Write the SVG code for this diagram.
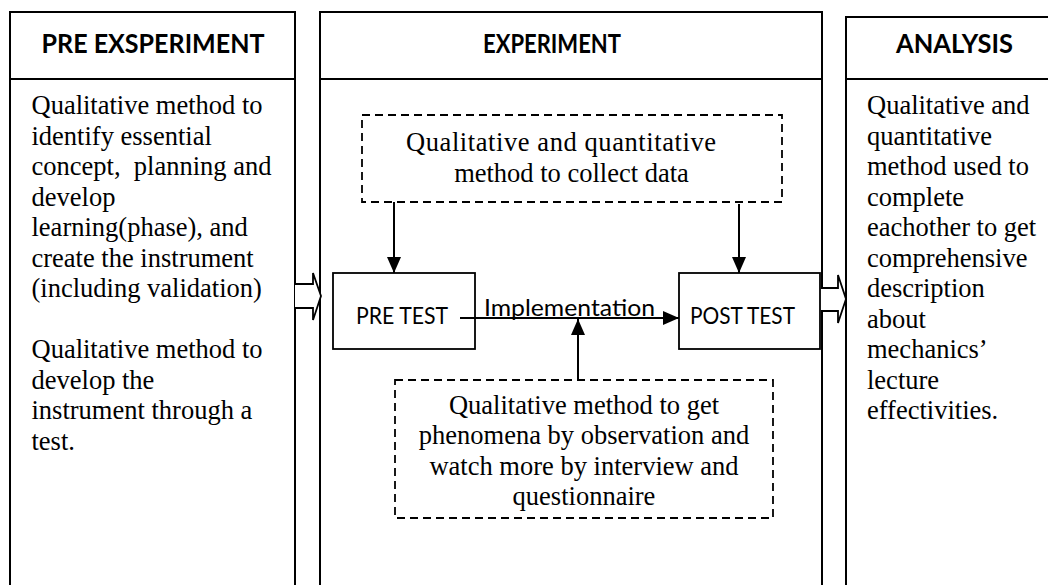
<svg xmlns="http://www.w3.org/2000/svg" width="1048" height="585" viewBox="0 0 1048 585">
<style>
.col{fill:#fff;stroke:#000;stroke-width:2}
.box{fill:#fff;stroke:#000;stroke-width:1.8}
.dash{fill:none;stroke:#000;stroke-width:1.8;stroke-dasharray:8 5}
.hdr{font-family:Lato,"Liberation Sans",sans-serif;font-weight:bold;font-size:27px;fill:#000}
.sans{font-family:Lato,"Liberation Sans",sans-serif;font-size:23px;fill:#000}
.serif{font-family:"Liberation Serif","Times New Roman",serif;font-size:26.5px;fill:#000;white-space:pre}
.ctr{text-anchor:middle}
.conn{stroke:#000;stroke-width:2;fill:none}
.hollow{fill:#fff;stroke:#000;stroke-width:1.8;stroke-linejoin:miter}
</style>
<defs>
<marker id="ah" markerUnits="userSpaceOnUse" markerWidth="16" markerHeight="14" refX="16" refY="7" orient="auto">
<path d="M0,0 L16,7 L0,14 Z" fill="#000"/>
</marker>
</defs>
<rect width="1048" height="585" fill="#fff"/>

<g id="col-pre">
<rect class="col" x="10" y="12" width="285" height="600"/>
<line class="col" x1="10" y1="79" x2="295" y2="79"/>
<text class="hdr" x="41.5" y="53" textLength="223" lengthAdjust="spacingAndGlyphs">PRE EXSPERIMENT</text>
<text class="serif" x="31.5" y="114">Qualitative method to</text>
<text class="serif" x="31.5" y="144.5">identify essential</text>
<text class="serif" x="31.5" y="175">concept,  planning and</text>
<text class="serif" x="31.5" y="205.5">develop</text>
<text class="serif" x="31.5" y="236">learning(phase), and</text>
<text class="serif" x="31.5" y="266.5">create the instrument</text>
<text class="serif" x="31.5" y="297">(including validation)</text>
<text class="serif" x="31.5" y="358">Qualitative method to</text>
<text class="serif" x="31.5" y="388.5">develop the</text>
<text class="serif" x="31.5" y="419">instrument through a</text>
<text class="serif" x="31.5" y="449.5">test.</text>
</g>

<g id="col-exp">
<rect class="col" x="320" y="12" width="502" height="600"/>
<line class="col" x1="320" y1="79" x2="822" y2="79"/>
<text class="hdr" x="483" y="53" textLength="138" lengthAdjust="spacingAndGlyphs">EXPERIMENT</text>
</g>

<g id="col-ana">
<rect class="col" x="846" y="17" width="220" height="600"/>
<line class="col" x1="846" y1="79" x2="1066" y2="79"/>
<text class="hdr" x="896" y="53" textLength="117" lengthAdjust="spacingAndGlyphs">ANALYSIS</text>
<text class="serif" x="867" y="114">Qualitative and</text>
<text class="serif" x="867" y="144.5">quantitative</text>
<text class="serif" x="867" y="175">method used to</text>
<text class="serif" x="867" y="205.5">complete</text>
<text class="serif" x="867" y="236">eachother to get</text>
<text class="serif" x="867" y="266.5">comprehensive</text>
<text class="serif" x="867" y="297">description</text>
<text class="serif" x="867" y="327.5">about</text>
<text class="serif" x="867" y="358">mechanics’</text>
<text class="serif" x="867" y="388.5">lecture</text>
<text class="serif" x="867" y="419">effectivities.</text>
</g>

<g id="collect-data">
<rect class="dash" x="362" y="115" width="420" height="87"/>
<text class="serif" x="406" y="151" textLength="310" lengthAdjust="spacing">Qualitative and quantitative</text>
<text class="serif ctr" x="571.5" y="182">method to collect data</text>
</g>

<g id="pre-test">
<rect class="box" x="333" y="273" width="142" height="76"/>
<text class="sans" x="356" y="324" textLength="92" lengthAdjust="spacingAndGlyphs">PRE TEST</text>
</g>

<g id="post-test">
<rect class="box" x="679" y="273" width="141" height="76"/>
<text class="sans" x="690" y="324" textLength="105" lengthAdjust="spacingAndGlyphs">POST TEST</text>
</g>

<g id="observation">
<rect class="dash" x="395" y="380" width="378" height="138"/>
<text class="serif ctr" x="584" y="413.5">Qualitative method to get</text>
<text class="serif ctr" x="584" y="444">phenomena by observation and</text>
<text class="serif ctr" x="584" y="474.5">watch more by interview and</text>
<text class="serif ctr" x="584" y="505">questionnaire</text>
</g>

<g id="connectors">
<path class="hollow" d="M295,284 L313,284 L313,273 L321,296 L313,320 L313,308 L295,308"/>
<path class="hollow" d="M821,288 L838,288 L838,275 L846,299 L838,323 L838,311 L821,311"/>
<line class="conn" x1="394" y1="202" x2="394" y2="273" marker-end="url(#ah)"/>
<line class="conn" x1="739" y1="204" x2="739" y2="273" marker-end="url(#ah)"/>
<line class="conn" x1="460" y1="318" x2="679" y2="318" marker-end="url(#ah)"/>
<line class="conn" x1="578" y1="380" x2="578" y2="319" marker-end="url(#ah)"/>
<text class="sans" x="484" y="316" textLength="171" lengthAdjust="spacingAndGlyphs">Implementation</text>
</g>
</svg>
